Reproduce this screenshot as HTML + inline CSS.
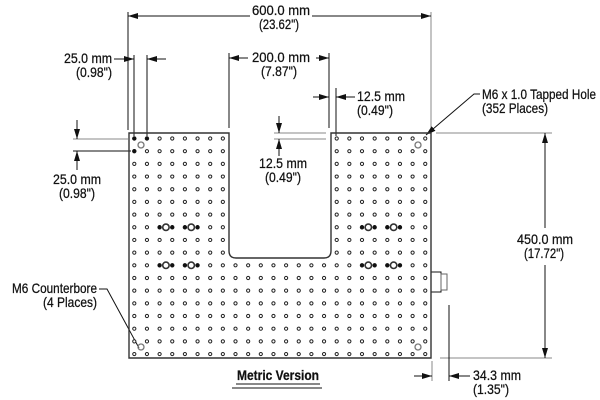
<!DOCTYPE html>
<html><head><meta charset="utf-8"><style>
html,body{margin:0;padding:0;background:#fff;width:600px;height:400px;overflow:hidden}
text{font-family:"Liberation Sans",sans-serif;font-size:14px;fill:#111;stroke:#111;stroke-width:0.25}
</style></head><body>
<svg width="600" height="400" viewBox="0 0 600 400" xmlns="http://www.w3.org/2000/svg">
<defs>
<marker id="a" viewBox="0 0 10 6" refX="10" refY="3" markerWidth="10" markerHeight="6" orient="auto" markerUnits="userSpaceOnUse"><path d="M0,0L10,3L0,6z" fill="#111"/></marker>
</defs>
<g stroke="#111" stroke-width="1" fill="none">
<line x1="128" y1="12" x2="128" y2="130"/>
<line x1="431" y1="12" x2="431" y2="128" stroke="#888"/>
<line x1="250" y1="16" x2="128" y2="16" marker-end="url(#a)"/>
<line x1="312" y1="16" x2="431" y2="16" marker-end="url(#a)"/>
<line x1="134" y1="55" x2="134" y2="136"/>
<line x1="147" y1="55" x2="147" y2="136"/>
<line x1="114" y1="59" x2="134" y2="59" marker-end="url(#a)"/>
<line x1="166" y1="59" x2="147" y2="59" marker-end="url(#a)"/>
<line x1="229" y1="53" x2="229" y2="128"/>
<line x1="329" y1="53" x2="329" y2="128"/>
<line x1="248" y1="58" x2="229" y2="58" marker-end="url(#a)"/>
<line x1="316" y1="58" x2="329" y2="58" marker-end="url(#a)"/>
<line x1="336" y1="88" x2="336" y2="136"/>
<line x1="313" y1="97" x2="329" y2="97" marker-end="url(#a)"/>
<line x1="355" y1="97" x2="336" y2="97" marker-end="url(#a)"/>
<line x1="274" y1="133" x2="326" y2="133" stroke="#888"/>
<line x1="274" y1="139" x2="326" y2="139" stroke="#888"/>
<line x1="279" y1="116" x2="279" y2="133" marker-end="url(#a)"/>
<line x1="279" y1="156" x2="279" y2="139" marker-end="url(#a)"/>
<line x1="73" y1="139" x2="128" y2="139" stroke="#888"/>
<line x1="73" y1="151" x2="131" y2="151"/>
<line x1="77" y1="120" x2="77" y2="139" marker-end="url(#a)"/>
<line x1="77" y1="170" x2="77" y2="151" marker-end="url(#a)"/>
<line x1="436" y1="133" x2="552" y2="133" stroke="#888"/>
<line x1="440" y1="358" x2="552" y2="358" stroke="#888"/>
<line x1="545" y1="228" x2="545" y2="133" marker-end="url(#a)"/>
<line x1="545" y1="265" x2="545" y2="358" marker-end="url(#a)"/>
<line x1="432" y1="361" x2="432" y2="381" stroke="#888"/>
<line x1="449" y1="305" x2="449" y2="381"/>
<line x1="414" y1="376" x2="432" y2="376" marker-end="url(#a)"/>
<line x1="470" y1="376" x2="449" y2="376" marker-end="url(#a)"/>
<polyline points="480,94 474,94 426,135" marker-end="url(#a)"/>
<polyline points="99,289 107,289 139,348"/>
<rect x="431" y="272" width="10" height="20"/>
<rect x="441" y="274" width="6" height="16" stroke="#666"/>
<path d="M129,133H229V251Q229,258 236,258H324Q331,258 331,251V133H431V358H129Z" stroke="#333" stroke-width="1.4"/>
</g>
<g id="holes" fill="#fff" stroke="#222" stroke-width="1">
</g>
<g fill="none" stroke="#777" stroke-width="1.3">
<circle cx="141" cy="145" r="3"/><circle cx="418" cy="145" r="3"/>
<circle cx="141" cy="347" r="3"/><circle cx="418" cy="347" r="3"/>
</g>
<g style="font-size:14px">
<text x="252" y="15" textLength="58" lengthAdjust="spacingAndGlyphs">600.0 mm</text>
<text x="259" y="29" textLength="40" lengthAdjust="spacingAndGlyphs">(23.62")</text>
<text x="64" y="63" textLength="48" lengthAdjust="spacingAndGlyphs">25.0 mm</text>
<text x="76" y="77" textLength="36" lengthAdjust="spacingAndGlyphs">(0.98")</text>
<text x="252" y="62" textLength="58" lengthAdjust="spacingAndGlyphs">200.0 mm</text>
<text x="261" y="76" textLength="36" lengthAdjust="spacingAndGlyphs">(7.87")</text>
<text x="357" y="101" textLength="48" lengthAdjust="spacingAndGlyphs">12.5 mm</text>
<text x="357" y="115" textLength="36" lengthAdjust="spacingAndGlyphs">(0.49")</text>
<text x="482" y="99" textLength="114" lengthAdjust="spacingAndGlyphs">M6 x 1.0 Tapped Hole</text>
<text x="482" y="113" textLength="66" lengthAdjust="spacingAndGlyphs">(352 Places)</text>
<text x="259" y="168" textLength="48" lengthAdjust="spacingAndGlyphs">12.5 mm</text>
<text x="265" y="182" textLength="36" lengthAdjust="spacingAndGlyphs">(0.49")</text>
<text x="53" y="184" textLength="48" lengthAdjust="spacingAndGlyphs">25.0 mm</text>
<text x="59" y="198" textLength="36" lengthAdjust="spacingAndGlyphs">(0.98")</text>
<text x="517" y="244" textLength="56" lengthAdjust="spacingAndGlyphs">450.0 mm</text>
<text x="524" y="258" textLength="40" lengthAdjust="spacingAndGlyphs">(17.72")</text>
<text x="473" y="380" textLength="48" lengthAdjust="spacingAndGlyphs">34.3 mm</text>
<text x="473" y="394" textLength="36" lengthAdjust="spacingAndGlyphs">(1.35")</text>
<text x="12" y="293" textLength="85" lengthAdjust="spacingAndGlyphs">M6 Counterbore</text>
<text x="43" y="307" textLength="54" lengthAdjust="spacingAndGlyphs">(4 Places)</text>
<text x="237" y="380" textLength="82" lengthAdjust="spacingAndGlyphs" style="font-weight:bold">Metric Version</text>
</g>
<line x1="236" y1="384" x2="320" y2="384" stroke="#111" stroke-width="1"/>
<line x1="232" y1="388" x2="322" y2="388" stroke="#111" stroke-width="1"/>
<script>
(function(){
var g=document.getElementById('holes'),ns='http://www.w3.org/2000/svg';
function c(x,y,r,f,s,w){var e=document.createElementNS(ns,'circle');e.setAttribute('cx',x);e.setAttribute('cy',y);e.setAttribute('r',r);e.setAttribute('fill',f);e.setAttribute('stroke',s);e.setAttribute('stroke-width',w);g.appendChild(e);}
var special={};
[7,10].forEach(function(j){[2,3,4,5,18,19,20,21].forEach(function(i){special[i+','+j]=1;});});
for(var j=0;j<18;j++){for(var i=0;i<24;i++){
var x=134.3+12.65*i,y=138.5+12.68*j;
if(i>=8&&i<=15&&j<=9)continue;
var filled=special[i+','+j]||(j==0&&i<2)||(j==1&&i==0);
if(filled)c(x,y,1.9,'#111','#111',0.6);else c(x,y,1.6,'#fff','#222',1);
}}
[7,10].forEach(function(j){var y=138.5+12.68*j;[2.5,4.5,18.5,20.5].forEach(function(i){c(134.3+12.65*i,y,3.2,'#fff','#333',1.6);});});
})();
</script>
</svg>
</body></html>
